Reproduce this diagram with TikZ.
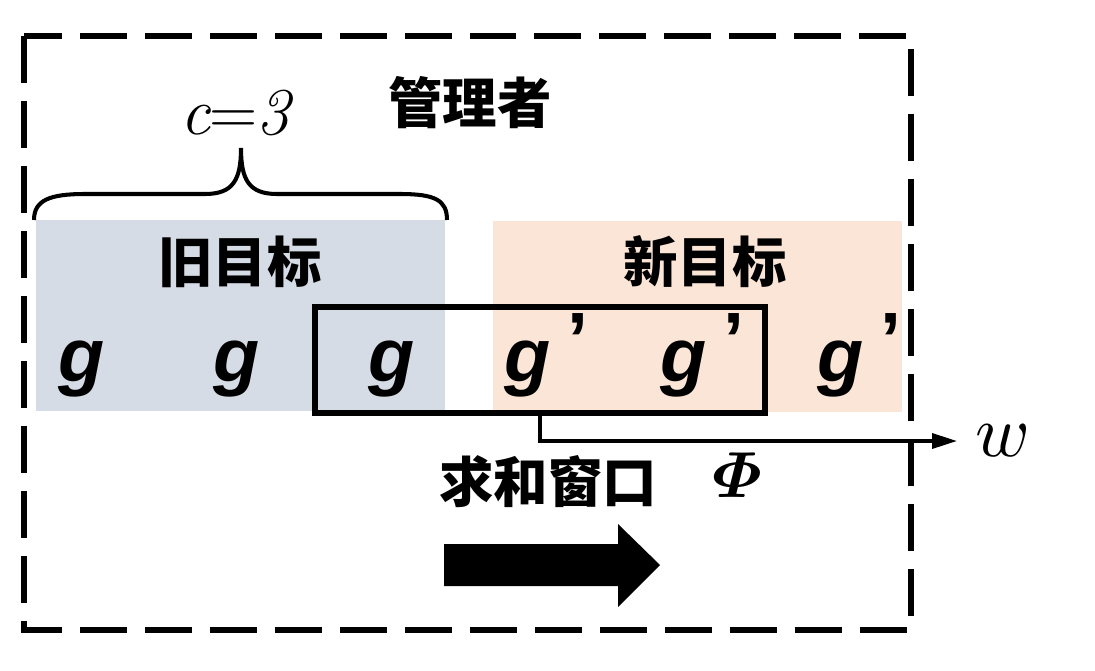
\documentclass[tikz,border=0pt]{standalone}
\usepackage{amsmath}
\usepackage{fontspec}
\usepackage[math-style=ISO]{unicode-math}
\newfontfamily\cjk{Noto Sans CJK SC}
\newfontfamily\latinsans{Liberation Sans}
\usetikzlibrary{arrows.meta}
\definecolor{oldblue}{HTML}{D6DCE5}
\definecolor{newpink}{HTML}{FBE5D6}
\tikzset{
  zh/.style={font=\cjk\bfseries\fontsize{31}{36}\selectfont},
  goal/.style={anchor=base west, inner sep=0pt, font=\latinsans\bfseries\itshape\fontsize{43}{50}\selectfont},
  window/.style={draw, line width=3pt, minimum width=9cm, minimum height=2.12cm, inner sep=0pt},
}
\newcommand{\gprime}{g\kern0.22em\raisebox{0.2em}{\upshape\bfseries ’}}
\begin{document}
\begin{tikzpicture}[x=0.02cm, y=-0.02cm]
    \useasboundingbox (0,0) rectangle (1095,670);
    % \draw[help lines, step=50] (0,0) grid (1095,670);
    \draw[line width=3.1pt, dash pattern=on 0.94cm off 0.36cm] (24,36) rectangle (911,630);
    \node[zh] (mgr) at (470,103) {管理者};
    \fill[oldblue] (36,220) rectangle (445,411);
    \fill[newpink] (493,221) rectangle (902,412);
    \node[zh] (old) at (240,262) {旧目标};
    \node[zh] (new) at (705,262) {新目标};
    \foreach \x [count=\i] in {58,213,368}
        \node[goal] (g\i) at (\x,381) {g};
    \foreach \x [count=\i] in {504,660,817}
        \node[goal] (h\i) at (\x,381) {\gprime};
    % brace over the old goals
    \draw[line width=2.3pt] (34,220) .. controls (34,200) and (50,194) .. (85,194) -- (205,194)
        .. controls (233,194) and (241,180) .. (241,148)
        .. controls (241,180) and (249,194) .. (277,194) -- (400,194)
        .. controls (435,194) and (447,200) .. (447,220);
    \node[font=\fontsize{38}{42}\selectfont] (c) at (237,113) {\textit{c}\kern-0.02em=\kern-0.02em\textit{3}};
    \node[window] (win) at (540,360) {};
    \node[anchor=west, inner sep=0pt, font=\fontsize{42}{48}\selectfont] (w) at (975,441) {$w$};
    \draw[line width=2pt, -{Triangle[length=0.5cm, width=0.3cm]}, shorten >=0.36cm] (win.south) |- (w.west)
        node[pos=0.727, below=5.5pt, inner sep=0pt, font=\fontsize{37}{42}\selectfont] (phi) {$\symbfit{\Phi}$};
    \node[zh] (sum) at (548,482) {求和窗口};
    \fill (444,544) -- (618,544) -- (618,524) -- (660,565) -- (618,607) -- (618,586) -- (444,586) -- cycle;
\end{tikzpicture}
\end{document}
